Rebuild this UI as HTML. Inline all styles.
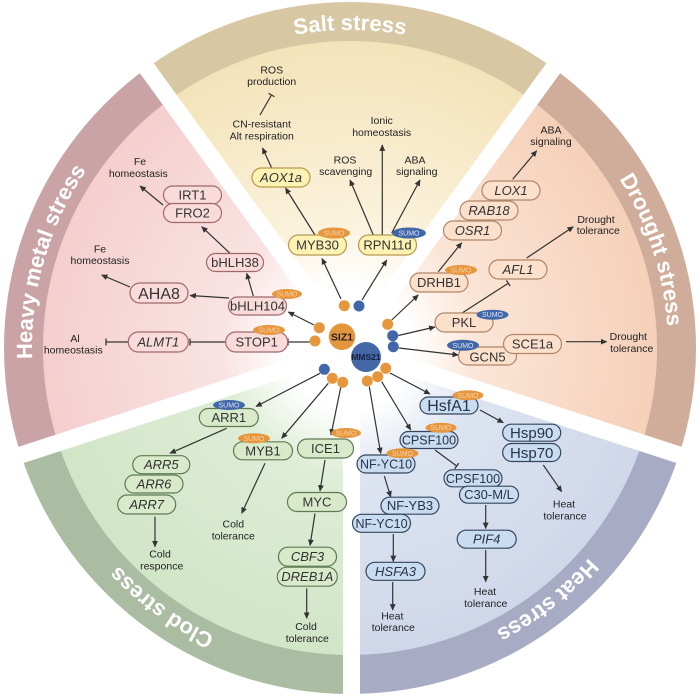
<!DOCTYPE html>
<html><head><meta charset="utf-8"><style>
html,body{margin:0;padding:0;background:#fff;}
svg{display:block;font-family:"Liberation Sans",Arial,sans-serif;}
.an{font-size:10.5px;fill:#222;text-anchor:middle;}
.nt{font-size:13px;text-anchor:middle;fill:#333;}
.it{font-style:italic;}
.lab{font-size:22px;font-weight:bold;fill:#fff;}
.su{font-size:7px;text-anchor:middle;}
</style></head><body>
<svg width="700" height="696" viewBox="0 0 700 696" xmlns="http://www.w3.org/2000/svg">
<defs>
<radialGradient id="gS" gradientUnits="userSpaceOnUse" cx="350" cy="348" r="307"><stop offset="0" stop-color="#fff"/><stop offset="0.2" stop-color="#fff"/><stop offset="0.42" stop-color="#fbf2dc"/><stop offset="1" stop-color="#f4e3b9"/></radialGradient>
<radialGradient id="gD" gradientUnits="userSpaceOnUse" cx="350" cy="348" r="307"><stop offset="0" stop-color="#fff"/><stop offset="0.2" stop-color="#fff"/><stop offset="0.42" stop-color="#fbe5d6"/><stop offset="1" stop-color="#f5d0b9"/></radialGradient>
<radialGradient id="gH" gradientUnits="userSpaceOnUse" cx="350" cy="348" r="307"><stop offset="0" stop-color="#fff"/><stop offset="0.2" stop-color="#fff"/><stop offset="0.42" stop-color="#dde4f1"/><stop offset="1" stop-color="#cfd7ea"/></radialGradient>
<radialGradient id="gC" gradientUnits="userSpaceOnUse" cx="350" cy="348" r="307"><stop offset="0" stop-color="#fff"/><stop offset="0.2" stop-color="#fff"/><stop offset="0.42" stop-color="#deedd6"/><stop offset="1" stop-color="#d1e5c7"/></radialGradient>
<radialGradient id="gM" gradientUnits="userSpaceOnUse" cx="350" cy="348" r="307"><stop offset="0" stop-color="#fff"/><stop offset="0.2" stop-color="#fff"/><stop offset="0.42" stop-color="#f9e3e2"/><stop offset="1" stop-color="#f4cfce"/></radialGradient>
<marker id="ah" viewBox="0 0 10 10" refX="9" refY="5" markerWidth="6.5" markerHeight="6.5" markerUnits="userSpaceOnUse" orient="auto"><path d="M0,0.5 L10,5 L0,9.5 z" fill="#333"/></marker>
<marker id="tb" viewBox="0 0 10 10" refX="5" refY="5" markerWidth="7" markerHeight="7" markerUnits="userSpaceOnUse" orient="auto"><path d="M5,0 V10" stroke="#333" stroke-width="1.8"/></marker>
<path id="pS" d="M145.6,104.4 A318,318 0 0 1 554.4,104.4"/>
<path id="pD" d="M518.5,78.3 A318,318 0 0 1 644.8,467.1"/>
<path id="pH" d="M661.0,414.1 A318,318 0 0 1 338.9,665.8"/>
<path id="pC" d="M372.2,665.2 A318,318 0 0 1 41.4,424.9"/>
<path id="pM" d="M59.5,477.3 A318,318 0 0 1 172.2,84.4"/>
</defs>

<!-- sectors -->
<path d="M350,348 L146.6,68.1 A346,346 0 0 1 553.4,68.1 Z" fill="#d7c7a3"/>
<path d="M350,348 L169.6,99.6 A307,307 0 0 1 530.4,99.6 Z" fill="url(#gS)"/>
<path d="M350,348 L553.4,68.1 A346,346 0 0 1 679.1,454.9 Z" fill="#d0ac9a"/>
<path d="M350,348 L530.4,99.6 A307,307 0 0 1 642,442.9 Z" fill="url(#gD)"/>
<path d="M350,348 L679.1,454.9 A346,346 0 0 1 350,694 Z" fill="#a7acc4"/>
<path d="M350,348 L642,442.9 A307,307 0 0 1 350,655 Z" fill="url(#gH)"/>
<path d="M350,348 L350,694 A346,346 0 0 1 20.9,454.9 Z" fill="#aabda2"/>
<path d="M350,348 L350,655 A307,307 0 0 1 58,442.9 Z" fill="url(#gC)"/>
<path d="M350,348 L20.9,454.9 A346,346 0 0 1 146.6,68.1 Z" fill="#caa3a6"/>
<path d="M350,348 L58,442.9 A307,307 0 0 1 169.6,99.6 Z" fill="url(#gM)"/>

<!-- gaps -->
<g stroke="#fff" stroke-width="17">
<line x1="350" y1="348" x2="564.5" y2="52.7"/>
<line x1="350" y1="348" x2="697.1" y2="460.8"/>
<line x1="351.5" y1="348" x2="351.5" y2="700"/>
<line x1="350" y1="348" x2="2.9" y2="460.8"/>
<line x1="350" y1="348" x2="135.5" y2="52.7"/>
</g>

<!-- labels -->
<text class="lab"><textPath href="#pS" startOffset="50%" text-anchor="middle">Salt stress</textPath></text>
<text class="lab"><textPath href="#pD" startOffset="50%" text-anchor="middle">Drought stress</textPath></text>
<text class="lab"><textPath href="#pH" startOffset="50%" text-anchor="middle">Heat stress</textPath></text>
<text class="lab"><textPath href="#pC" startOffset="50%" text-anchor="middle">Clod stress</textPath></text>
<text class="lab"><textPath href="#pM" startOffset="50%" text-anchor="middle">Heavy metal stress</textPath></text>

<!-- connectors -->
<g stroke="#333" stroke-width="1.2" fill="none">
<line x1="260" y1="115" x2="271.5" y2="95" marker-end="url(#tb)"/>
<line x1="271.7" y1="168" x2="262.5" y2="148" marker-end="url(#ah)"/>
<line x1="315" y1="235" x2="285.5" y2="188" marker-end="url(#ah)"/>
<line x1="373.3" y1="235" x2="350" y2="180" marker-end="url(#ah)"/>
<line x1="382.3" y1="235" x2="382.3" y2="145" marker-end="url(#ah)"/>
<line x1="391.7" y1="233" x2="420" y2="180" marker-end="url(#ah)"/>
<line x1="341" y1="299" x2="322" y2="258.5" marker-end="url(#ah)"/>
<line x1="362" y1="300" x2="386.7" y2="260" marker-end="url(#ah)"/>

<line x1="163" y1="205" x2="140" y2="186" marker-end="url(#ah)"/>
<line x1="230" y1="253.3" x2="201.7" y2="226.7" marker-end="url(#ah)"/>
<line x1="253.3" y1="296" x2="246.7" y2="273.3" marker-end="url(#ah)"/>
<line x1="229" y1="298" x2="190" y2="295.5" marker-end="url(#ah)"/>
<line x1="130" y1="287" x2="101.7" y2="275" marker-end="url(#ah)"/>
<line x1="314" y1="325" x2="288.3" y2="312" marker-end="url(#ah)"/>
<line x1="309.5" y1="342" x2="288" y2="342" marker-end="url(#tb)"/>
<line x1="225" y1="342" x2="190" y2="342" marker-end="url(#tb)"/>
<line x1="128.3" y1="342" x2="106" y2="342" marker-end="url(#tb)"/>

<line x1="512.7" y1="179.3" x2="536.7" y2="150.7" marker-end="url(#ah)"/>
<line x1="438.3" y1="271.7" x2="461.7" y2="242.7" marker-end="url(#ah)"/>
<line x1="526.7" y1="258" x2="573.3" y2="226.7" marker-end="url(#ah)"/>
<line x1="461.7" y1="313.3" x2="508.3" y2="283.3" marker-end="url(#tb)"/>
<line x1="566" y1="341.7" x2="606.7" y2="341.7" marker-end="url(#ah)"/>
<line x1="391.7" y1="320" x2="418.3" y2="295" marker-end="url(#ah)"/>
<line x1="398.3" y1="335.5" x2="435" y2="327" marker-end="url(#ah)"/>
<line x1="399" y1="348" x2="458.3" y2="355" marker-end="url(#ah)"/>

<line x1="320" y1="373.3" x2="256" y2="406.5" marker-end="url(#ah)"/>
<line x1="226.7" y1="428.3" x2="170" y2="453.3" marker-end="url(#ah)"/>
<line x1="155" y1="516.7" x2="155" y2="546.7" marker-end="url(#ah)"/>
<line x1="328.3" y1="383.3" x2="281.7" y2="438.3" marker-end="url(#ah)"/>
<line x1="265" y1="463.3" x2="241.7" y2="513.3" marker-end="url(#ah)"/>
<line x1="340.7" y1="387.5" x2="331" y2="435" marker-end="url(#ah)"/>
<line x1="325" y1="460" x2="320" y2="491" marker-end="url(#ah)"/>
<line x1="315" y1="513.5" x2="310" y2="545.5" marker-end="url(#ah)"/>
<line x1="306.7" y1="588.3" x2="306.7" y2="618.3" marker-end="url(#ah)"/>

<line x1="390" y1="373" x2="430" y2="394" marker-end="url(#ah)"/>
<line x1="480" y1="410" x2="503.3" y2="422.7" marker-end="url(#ah)"/>
<line x1="543.3" y1="465" x2="561.7" y2="491.7" marker-end="url(#ah)"/>
<line x1="381.7" y1="381.7" x2="410.7" y2="430" marker-end="url(#ah)"/>
<line x1="435" y1="450" x2="456.7" y2="466" marker-end="url(#tb)"/>
<line x1="485.7" y1="505" x2="485.7" y2="528.5" marker-end="url(#ah)"/>
<line x1="485.7" y1="550" x2="485.7" y2="581.7" marker-end="url(#ah)"/>
<line x1="369.3" y1="386.7" x2="380.7" y2="453.5" marker-end="url(#ah)"/>
<line x1="384.3" y1="476" x2="390.7" y2="497" marker-end="url(#ah)"/>
<line x1="393.3" y1="534" x2="393.3" y2="561.5" marker-end="url(#ah)"/>
<line x1="392.7" y1="582" x2="392.7" y2="610" marker-end="url(#ah)"/>
</g>

<!-- annotation text -->
<g class="an">
<text x="271.7" y="73.5">ROS</text><text x="271.7" y="85">production</text>
<text x="261.7" y="127.5">CN-resistant</text><text x="261.7" y="139.5">Alt respiration</text>
<text x="381.7" y="124">Ionic</text><text x="381.7" y="136">homeostasis</text>
<text x="345" y="163.5">ROS</text><text x="345.7" y="175">scavenging</text>
<text x="415" y="163.5">ABA</text><text x="416.7" y="175">signaling</text>
<text x="140" y="165">Fe</text><text x="138.3" y="176.8">homeostasis</text>
<text x="100" y="252.5">Fe</text><text x="100" y="264">homeostasis</text>
<text x="75" y="341.8">Al</text><text x="73.3" y="353.5">homeostasis</text>
<text x="551" y="133.5">ABA</text><text x="551" y="145">signaling</text>
<text x="596" y="222.8">Drought</text><text x="598.3" y="234">tolerance</text>
<text x="628.3" y="340">Drought</text><text x="631.7" y="351.8">tolerance</text>
<text x="160" y="557.5">Cold</text><text x="161.7" y="569.5">responce</text>
<text x="233.3" y="527.5">Cold</text><text x="233.3" y="539.5">tolerance</text>
<text x="306" y="630">Cold</text><text x="307.3" y="641.8">tolerance</text>
<text x="564" y="507.5">Heat</text><text x="565" y="519.5">tolerance</text>
<text x="485" y="595">Heat</text><text x="485.7" y="606.8">tolerance</text>
<text x="392.3" y="619.5">Heat</text><text x="393.3" y="631">tolerance</text>
</g>

<!-- Salt nodes -->
<g fill="#fbf2b4" stroke="#b89a4e" stroke-width="1.2">
<rect x="252" y="168" width="58" height="19" rx="9.5"/>
<rect x="288.5" y="235" width="58" height="20" rx="10"/>
<rect x="358.5" y="235" width="58" height="20" rx="10"/>
</g>
<g class="nt">
<text x="281" y="182" class="it">AOX1a</text>
<text x="317.5" y="249.5">MYB30</text>
<text x="387.5" y="249.5">RPN11d</text>
</g>

<!-- Heavy metal nodes -->
<g fill="#f9dbdb" stroke="#9e6a6c" stroke-width="1.2">
<rect x="163.5" y="186" width="58" height="18" rx="9"/>
<rect x="163.5" y="203.5" width="58" height="19" rx="9.5"/>
<rect x="206.5" y="253.5" width="57" height="18" rx="9"/>
<rect x="228.5" y="297" width="58" height="18" rx="9"/>
<rect x="130" y="283" width="58" height="20" rx="10"/>
<rect x="225.7" y="332" width="62" height="20" rx="10"/>
<rect x="128.3" y="332" width="60" height="20" rx="10"/>
</g>
<g class="nt">
<text x="192.5" y="199.5">IRT1</text>
<text x="192.5" y="217.5">FRO2</text>
<text x="235" y="267">bHLH38</text>
<text x="257.5" y="310.5">bHLH104</text>
<text x="159" y="298.8" style="font-size:16px">AHA8</text>
<text x="256.7" y="346.5">STOP1</text>
<text x="158.3" y="346.5" class="it">ALMT1</text>
</g>

<!-- Drought nodes -->
<g fill="#fbe0cc" stroke="#b0866a" stroke-width="1.2">
<rect x="482" y="181" width="58" height="19" rx="9.5"/>
<rect x="460" y="201" width="58" height="19" rx="9.5"/>
<rect x="443.5" y="221" width="58" height="19" rx="9.5"/>
<rect x="410" y="273" width="58" height="19" rx="9.5"/>
<rect x="489" y="260" width="58" height="19" rx="9.5"/>
<rect x="435" y="313" width="58" height="19" rx="9.5"/>
<rect x="458.5" y="347" width="58" height="18" rx="9"/>
<rect x="503.5" y="334.5" width="58" height="19" rx="9.5"/>
</g>
<g class="nt">
<text x="511" y="195" class="it">LOX1</text>
<text x="489" y="215" class="it">RAB18</text>
<text x="472.5" y="235" class="it">OSR1</text>
<text x="439" y="287">DRHB1</text>
<text x="518" y="274.2" class="it">AFL1</text>
<text x="464" y="327">PKL</text>
<text x="487.5" y="361.5">GCN5</text>
<text x="532.5" y="348.5">SCE1a</text>
</g>

<!-- Cold nodes -->
<g fill="#d8eac9" stroke="#5f7a56" stroke-width="1.2">
<rect x="199.3" y="408.5" width="59" height="18" rx="9"/>
<rect x="132.8" y="455.7" width="57" height="18" rx="9"/>
<rect x="125" y="475" width="58" height="18" rx="9"/>
<rect x="117.7" y="495" width="58" height="19" rx="9.5"/>
<rect x="233.5" y="441.8" width="59" height="18" rx="9"/>
<rect x="297.5" y="439" width="56" height="19" rx="9.5"/>
<rect x="287.5" y="492.5" width="59" height="19" rx="9.5"/>
<rect x="278.5" y="547.2" width="58" height="19" rx="9.5"/>
<rect x="277.3" y="567.2" width="60" height="19" rx="9.5"/>
</g>
<g class="nt">
<text x="228.8" y="422">ARR1</text>
<text x="161.3" y="469.2" class="it">ARR5</text>
<text x="154" y="488.5" class="it">ARR6</text>
<text x="146.7" y="509" class="it">ARR7</text>
<text x="263" y="455.3">MYB1</text>
<text x="325.5" y="453">ICE1</text>
<text x="317" y="506.5">MYC</text>
<text x="307.5" y="561.2" class="it">CBF3</text>
<text x="307.3" y="581.2" class="it">DREB1A</text>
</g>

<!-- Heat nodes -->
<g fill="#c9dcf0" stroke="#34465e" stroke-width="1.2">
<rect x="420" y="397" width="58" height="17" rx="8.5"/>
<rect x="502.7" y="424.2" width="58" height="17" rx="8.5"/>
<rect x="502.7" y="443.5" width="58" height="18" rx="9"/>
<rect x="400" y="431.5" width="58" height="17" rx="8.5"/>
<rect x="444" y="469.8" width="58" height="17" rx="8.5"/>
<rect x="459.5" y="486.2" width="59" height="17" rx="8.5"/>
<rect x="457.2" y="530.2" width="59" height="18" rx="9"/>
<rect x="357" y="455" width="58" height="18" rx="9"/>
<rect x="381" y="497.2" width="58" height="17" rx="8.5"/>
<rect x="352.5" y="514.3" width="58" height="18" rx="9"/>
<rect x="366" y="562.3" width="59" height="18" rx="9"/>
</g>
<g class="nt" style="fill:#26344a">
<text x="449" y="411" style="font-size:16px">HsfA1</text>
<text x="531.7" y="438.2" style="font-size:15px">Hsp90</text>
<text x="531.7" y="458" style="font-size:15px">Hsp70</text>
<text x="429" y="444.5" style="font-size:12.5px">CPSF100</text>
<text x="473" y="482.8" style="font-size:12.5px">CPSF100</text>
<text x="489" y="499.2">C30-M/L</text>
<text x="486.7" y="543.7" class="it">PIF4</text>
<text x="386" y="468.5" style="font-size:12.5px">NF-YC10</text>
<text x="410" y="510.2">NF-YB3</text>
<text x="381.5" y="527.8" style="font-size:12.5px">NF-YC10</text>
<text x="395.5" y="575.8" class="it">HSFA3</text>
</g>

<!-- SUMO badges -->
<g>
<ellipse cx="334" cy="233" rx="16" ry="5.5" fill="#e6963c"/>
<ellipse cx="409" cy="233" rx="17" ry="5.5" fill="#4267a8"/>
<ellipse cx="287" cy="294" rx="15" ry="5" fill="#e6963c"/>
<ellipse cx="269" cy="330" rx="16" ry="5" fill="#e6963c"/>
<ellipse cx="461" cy="270" rx="16" ry="5" fill="#e6963c"/>
<ellipse cx="492.5" cy="314.7" rx="16" ry="5" fill="#4267a8"/>
<ellipse cx="463" cy="345.3" rx="16" ry="5.5" fill="#4267a8"/>
<ellipse cx="229" cy="405" rx="16" ry="5" fill="#4267a8"/>
<ellipse cx="254" cy="438.3" rx="16" ry="5" fill="#e6963c"/>
<ellipse cx="346" cy="433" rx="15" ry="5" fill="#e6963c"/>
<ellipse cx="468" cy="395.3" rx="15.5" ry="5" fill="#e6963c"/>
<ellipse cx="441" cy="427.7" rx="15.5" ry="5" fill="#e6963c"/>
<ellipse cx="402.5" cy="453.3" rx="16" ry="5" fill="#e6963c"/>
</g>
<g class="su">
<text x="334" y="235.5" fill="#f8d3a6">SUMO</text>
<text x="409" y="235.5" fill="#dbe4f4">SUMO</text>
<text x="287" y="296.5" fill="#f8d3a6">SUMO</text>
<text x="269" y="332.5" fill="#f8d3a6">SUMO</text>
<text x="461" y="272.5" fill="#f8d3a6">SUMO</text>
<text x="492.5" y="317.2" fill="#dbe4f4">SUMO</text>
<text x="463" y="347.8" fill="#dbe4f4">SUMO</text>
<text x="229" y="407.5" fill="#dbe4f4">SUMO</text>
<text x="254" y="440.8" fill="#f8d3a6">SUMO</text>
<text x="346" y="435.5" fill="#f8d3a6">SUMO</text>
<text x="468" y="397.8" fill="#f8d3a6">SUMO</text>
<text x="441" y="430.2" fill="#f8d3a6">SUMO</text>
<text x="402.5" y="455.8" fill="#f8d3a6">SUMO</text>
</g>

<!-- center dots -->
<g>
<circle cx="344.3" cy="305.7" r="5.5" fill="#e6963c"/>
<circle cx="359" cy="306" r="5.5" fill="#4267a8"/>
<circle cx="319.3" cy="327.7" r="5.5" fill="#e6963c"/>
<circle cx="315" cy="341" r="5.5" fill="#e6963c"/>
<circle cx="387.7" cy="324.3" r="5.5" fill="#e6963c"/>
<circle cx="392.7" cy="335.7" r="5.5" fill="#4267a8"/>
<circle cx="393.3" cy="346.7" r="5.5" fill="#4267a8"/>
<circle cx="324.3" cy="369.3" r="5.5" fill="#4267a8"/>
<circle cx="332.3" cy="378.3" r="5.5" fill="#e6963c"/>
<circle cx="342.7" cy="382.3" r="5.5" fill="#e6963c"/>
<circle cx="367.3" cy="381" r="5.5" fill="#e6963c"/>
<circle cx="377.7" cy="376.7" r="5.5" fill="#e6963c"/>
<circle cx="385.7" cy="368.3" r="5.5" fill="#e6963c"/>
<circle cx="342" cy="336.7" r="13.3" fill="#e3963e"/>
<circle cx="366" cy="357" r="15" fill="#4467a8"/>
</g>
<text x="342" y="340.5" text-anchor="middle" style="font-size:10.5px;font-weight:bold;fill:#222">SIZ1</text>
<text x="366" y="360" text-anchor="middle" style="font-size:8.5px;font-weight:bold;fill:#17223a">MMS21</text>
</svg>
</body></html>
